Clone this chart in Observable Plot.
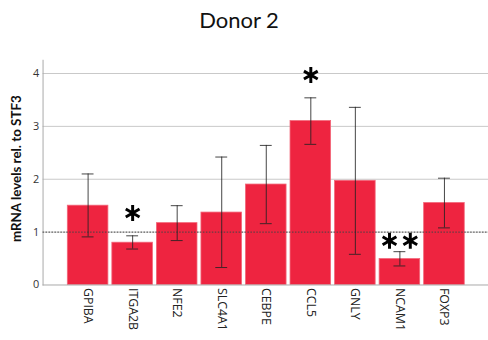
<!DOCTYPE html>
<html>
<head>
<meta charset="utf-8">
<script src="https://cdn.jsdelivr.net/npm/d3@7"></script>
<script src="https://cdn.jsdelivr.net/npm/@observablehq/plot@0.6"></script>
<style>
  html, body { margin: 0; padding: 0; background: #fff; overflow: hidden; }
  #title { height: 40px; width: 478px; text-align: center; font-family: Lato, "Open Sans", sans-serif;
           font-size: 22px; line-height: 40px; color: #111; }
</style>
</head>
<body>
<div id="title">Donor 2</div>
<div id="chart"></div>
<script>
// Relative mRNA expression per gene (mean with error interval)
const genes = ["GPIBA", "ITGA2B", "NFE2", "SLC4A1", "CEBPE", "CCL5", "GNLY", "NCAM1", "FOXP3"];
const means = [1.50, 0.80, 1.17, 1.37, 1.90, 3.10, 1.97, 0.49, 1.55];
const lower = [0.91, 0.68, 0.84, 0.33, 1.16, 2.66, 0.58, 0.36, 1.08];
const upper = [2.10, 0.93, 1.50, 2.42, 2.64, 3.54, 3.36, 0.63, 2.02];
const signif = ["", "*", "", "", "", "*", "", "**", ""];
const yTicks = [0, 1, 2, 3, 4];
const yLabel = "mRNA levels rel. to STF3";

const rows = genes.map((g, i) => ({gene: g, mean: means[i], lo: lower[i], hi: upper[i], sig: signif[i]}));
const single = rows.filter(d => d.sig === "*");
const double = rows.filter(d => d.sig === "**");

const font = "'Open Sans', sans-serif";

const chart = Plot.plot({
  width: 493,
  height: 300,
  marginLeft: 43,
  marginRight: 0,
  marginTop: 20,
  marginBottom: 53,
  style: {fontFamily: font, background: "#fff"},
  x: {type: "band", domain: genes, paddingInner: 0.089, paddingOuter: 0.54, label: null},
  y: {domain: [0, 4.25], label: null},
  marks: [
    Plot.gridY(yTicks.slice(1), {stroke: "#c8c8c8", strokeOpacity: 1}),
    Plot.frame({anchor: "left", stroke: "#a8a8a8"}),
    Plot.barY(rows, {x: "gene", y: "mean", fill: "#ee2440", stroke: "#f26679", strokeWidth: 0.8}),
    Plot.frame({anchor: "bottom", stroke: "#a8a8a8"}),
    Plot.ruleY([1], {stroke: "#444", strokeDasharray: "1.5,1.5", strokeWidth: 1}),
    Plot.ruleX(rows, {x: "gene", y1: "lo", y2: "hi", stroke: "#222", strokeOpacity: 0.85}),
    Plot.tickY(rows, {x: "gene", y: "lo", stroke: "#222", strokeOpacity: 0.85, insetLeft: 14.5, insetRight: 14.5}),
    Plot.tickY(rows, {x: "gene", y: "hi", stroke: "#222", strokeOpacity: 0.85, insetLeft: 14.5, insetRight: 14.5}),
    Plot.dot(single, {x: "gene", y: "hi", dy: -23, symbol: "asterisk", r: 7.6, stroke: "#000", strokeWidth: 3}),
    Plot.dot(double, {x: "gene", y: "hi", dy: -11, dx: -10.5, symbol: "asterisk", r: 7.6, stroke: "#000", strokeWidth: 3}),
    Plot.dot(double, {x: "gene", y: "hi", dy: -11, dx: 10.5, symbol: "asterisk", r: 7.6, stroke: "#000", strokeWidth: 3}),
    Plot.axisY(yTicks, {tickSize: 0, tickPadding: 4, tickFormat: "d", fontSize: 11, fill: "#333", label: null}),
    Plot.axisX({tickSize: 0, tickPadding: 3, tickRotate: 90, fontSize: 12.5, fill: "#222", label: null}),
    Plot.text([yLabel], {frameAnchor: "left", text: d => d, rotate: -90, textAnchor: "middle", dx: -27, dy: -4,
      fontFamily: "Lato, 'Open Sans', sans-serif", fontWeight: "bold", fontSize: 13.5, fill: "#111"})
  ]
});
document.getElementById("chart").appendChild(chart);
</script>
</body>
</html>
